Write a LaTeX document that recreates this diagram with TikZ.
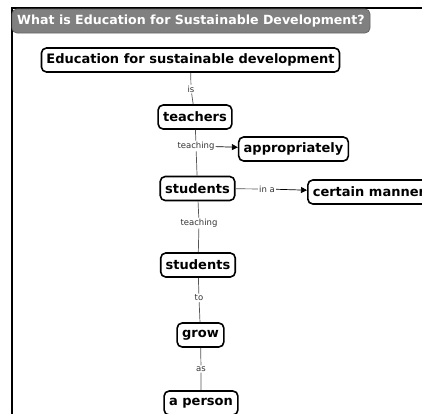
\documentclass[tikz,border=0pt]{standalone}
\usepackage{fontspec}
\setmainfont{DejaVu Sans}
\usetikzlibrary{arrows.meta}
\definecolor{titlegray}{HTML}{808080}
\definecolor{lblgray}{HTML}{333333}
\definecolor{linegray}{HTML}{555555}
\tikzset{
  concept/.style={draw=black, line width=1.6pt, rounded corners=5pt, fill=white,
    font=\fontsize{13}{15}\selectfont\bfseries, inner xsep=5pt, minimum height=24pt},
  lbl/.style={font=\fontsize{8.5}{10}\selectfont, text=lblgray, fill=white, inner sep=1pt},
  conn/.style={draw=linegray, line width=0.7pt},
  arr/.style={conn, -{Triangle[length=6pt,width=6pt]}, draw=black}
}
\begin{document}
\begin{tikzpicture}[x=1pt,y=-1pt]
\clip (0,0) rectangle (422,413);
\fill[white] (0,0) rectangle (422,413);
% frame
\draw[line width=1.6pt] (12,420) -- (12,8) -- (430,8);
% title
\node[fill=titlegray, draw=black!60, line width=0.8pt, rounded corners=5pt,
  minimum width=358pt, minimum height=24pt, inner sep=0pt, text=white,
  font=\fontsize{12.6}{15}\selectfont\bfseries] (title) at (191,21)
  {What is Education for Sustainable Development?};
% concepts
\node[concept] (efsd) at (190.5,60) {Education for sustainable development};
\node[concept] (teachers) at (195,117) {teachers};
\node[concept] (approp) at (293.5,149) {appropriately};
\node[concept] (students1) at (197.5,188.5) {students};
\node[concept, anchor=west] (manner) at (307,192) {certain manner};
\node[concept] (students2) at (198,265) {students};
\node[concept] (grow) at (200.5,335) {grow};
\node[concept] (person) at (201,403) {a person};
% labels
\node[lbl] (l1) at (191,89) {is};
\node[lbl] (l2) at (196,146) {teaching};
\node[lbl] (l3) at (267,189) {in a};
\node[lbl] (l4) at (199,223) {teaching};
\node[lbl] (l5) at (199,298) {to};
\node[lbl] (l6) at (201,369) {as};
% connectors
\draw[conn] (efsd) -- (l1) -- (teachers);
\draw[conn] (teachers) -- (l2) -- (students1);
\draw[arr] (l2) -- (approp);
\draw[conn] (students1) -- (l3);
\draw[arr] (l3) -- (manner);
\draw[conn] (students1) -- (l4) -- (students2);
\draw[conn] (students2) -- (l5) -- (grow);
\draw[conn] (grow) -- (l6) -- (person);
\end{tikzpicture}
\end{document}
